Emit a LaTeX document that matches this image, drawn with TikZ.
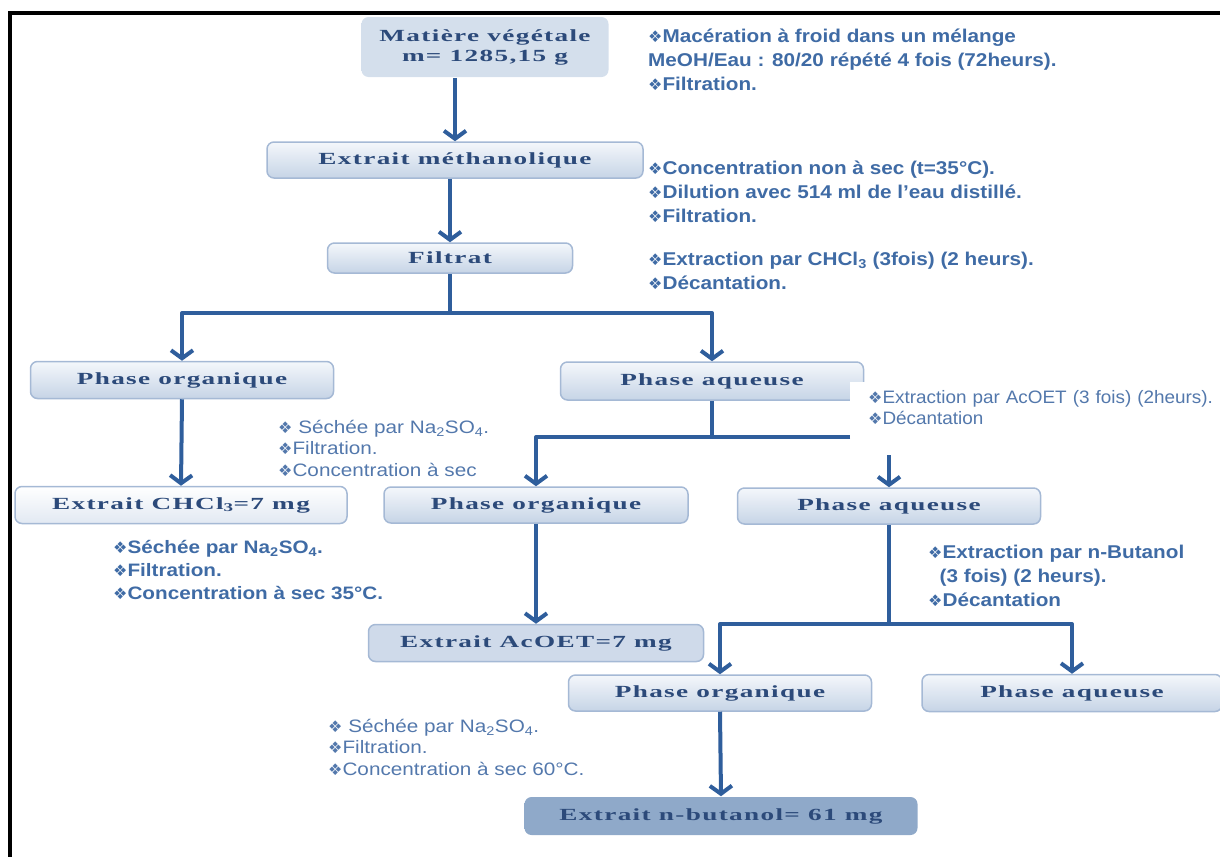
\documentclass[tikz,border=0pt]{standalone}
\usepackage{fontspec}
\setmainfont{Liberation Sans}
\newfontfamily\boxfont[FakeStretch=1.6,LetterSpace=8]{Liberation Serif}
\newfontfamily\widefont[FakeStretch=1.12]{Liberation Sans}
\newfontfamily\narrowfont[FakeStretch=1.15]{Liberation Sans}
\newfontfamily\acoetfont[FakeStretch=1.05]{Liberation Sans}
\newfontfamily\symfont{DejaVu Sans}
\usetikzlibrary{arrows.meta}
\definecolor{arrowblue}{HTML}{2F5E9C}
\definecolor{notecol}{HTML}{3F6BA5}
\definecolor{lightnote}{HTML}{5378AC}
\definecolor{boxtxt}{HTML}{2C4A7A}
\definecolor{boxedge}{HTML}{A5B9D5}
\definecolor{boxtop}{HTML}{F4F7FB}
\definecolor{boxbot}{HTML}{C6D4E6}
\definecolor{finalbox}{HTML}{8FA9C9}
\newcommand{\bul}{{\symfont\fontsize{16}{16}\selectfont ❖}}
\begin{document}
\begin{tikzpicture}[x=1pt,y=-1pt, line join=round,
  phase/.style={draw=boxedge, line width=1.5pt, rounded corners=7pt,
    top color=boxtop, bottom color=boxbot, text=boxtxt,
    font=\boxfont\bfseries\fontsize{17}{20}\selectfont,
    minimum width=303pt, minimum height=37pt, inner sep=0pt},
  link/.style={draw=arrowblue, line width=4pt},
  arr/.style={link, -{Straight Barb[length=8pt,width=22pt,line width=4pt]}},
  note/.style={anchor=north west, inner sep=0pt, align=left, text=notecol,
    font=\widefont\bfseries\fontsize{18.5}{24}\selectfont},
  thin note/.style={note, text=lightnote,
    font=\narrowfont\fontsize{18}{21.5}\selectfont}]
\useasboundingbox (0,0) rectangle (1220,857);
% cadre
\draw[line width=4pt] (8,13) -- (1220,13);
\draw[line width=4pt] (10,13) -- (10,857);

% boites
\node[phase, draw=none, top color=boxbot!75, bottom color=boxbot!75,
  minimum width=247pt, minimum height=60pt, align=center] (mat) at (485,47)
  {Matière végétale\\m= 1285,15 g};
\node[phase, minimum width=376pt, minimum height=36pt] (meth) at (455,160) {Extrait méthanolique};
\node[phase, minimum width=245pt, minimum height=30pt] (filt) at (450,258) {Filtrat};
\node[phase] (porg1) at (182,380) {Phase organique};
\node[phase, minimum height=38pt] (paq1) at (712,381) {Phase aqueuse};
\node[phase, minimum width=332pt, top color=white, bottom color=boxtop!60!boxbot] (chcl) at (181,505) {Extrait CHCl\textsubscript{3}=7 mg};
\node[phase, minimum width=304pt, minimum height=36pt] (porg2) at (536,505) {Phase organique};
\node[phase, minimum height=36pt] (paq2) at (889,506) {Phase aqueuse};
\node[phase, minimum width=335pt, top color=boxbot!85, bottom color=boxbot!85] (acoet) at (536,643) {Extrait AcOET=7 mg};
\node[phase, minimum height=36pt] (porg3) at (720,693) {Phase organique};
\node[phase, minimum width=300pt] (paq3) at (1072,693) {Phase aqueuse};
\node[phase, minimum width=393pt, minimum height=38pt, draw=none,
  top color=finalbox, bottom color=finalbox] (nbut) at (721,816) {Extrait n-butanol= 61 mg};

% liaisons
\coordinate (j1) at (450,313);
\coordinate (j2) at (712,437);
\coordinate (j2e) at (850,437);
\coordinate (a2) at (889,455);
\coordinate (j3) at (889,624);
\draw[arr] (mat.south -| meth.north) -- (meth.north);
\draw[arr] (meth.south -| filt.north) -- (filt.north);
\draw[link] (filt.south) -- (j1);
\draw[arr] (j1) -| (porg1.north);
\draw[arr] (j1) -| (paq1.north);
\draw[arr] (porg1.south) -- (chcl.north);
\draw[link] (paq1.south) -- (j2);
\draw[arr] (j2e) -| (porg2.north);
\draw[arr] (a2) -- (paq2.north);
\draw[arr] (porg2.south) -- (acoet.north);
\draw[link] (paq2.south) -- (j3);
\draw[arr] (j3) -| (porg3.north);
\draw[arr] (j3) -| (paq3.north);
\draw[arr] (porg3.south) -- (nbut.north);

% textes
\node[note] (n1) at (648,29) {\bul Macération à froid dans un mélange\\MeOH/Eau : 80/20 répété 4 fois (72heurs).\\\bul Filtration.};
\node[note] (n2) at (648,161) {\bul Concentration non à sec (t=35°C).\\\bul Dilution avec 514 ml de l’eau distillé.\\\bul Filtration.};
\node[note] (n3) at (648,252) {\bul Extraction par CHCl\textsubscript{3} (3fois) (2 heurs).\\\bul Décantation.};
\node[thin note] (n4) at (278,420) {\bul\ Séchée par Na\textsubscript{2}SO\textsubscript{4}.\\\bul Filtration.\\\bul Concentration à sec};
\node[thin note, font=\acoetfont\fontsize{18}{21.5}\selectfont, fill=white,
  inner xsep=18pt, inner ysep=8pt, text width=352pt] (n5) at (850,382)
  {\bul Extraction par AcOET (3 fois) (2heurs).\\\bul Décantation};
\node[note, font=\narrowfont\bfseries\fontsize{18}{23}\selectfont] (n6) at (113,540) {\bul Séchée par Na\textsubscript{2}SO\textsubscript{4}.\\\bul Filtration.\\\bul Concentration à sec 35°C.};
\node[note] (n7) at (928,545) {\bul Extraction par n-Butanol\\\ \ (3 fois) (2 heurs).\\\bul Décantation};
\node[thin note] (n8) at (328,719) {\bul\ Séchée par Na\textsubscript{2}SO\textsubscript{4}.\\\bul Filtration.\\\bul Concentration à sec 60°C.};
\end{tikzpicture}
\end{document}
